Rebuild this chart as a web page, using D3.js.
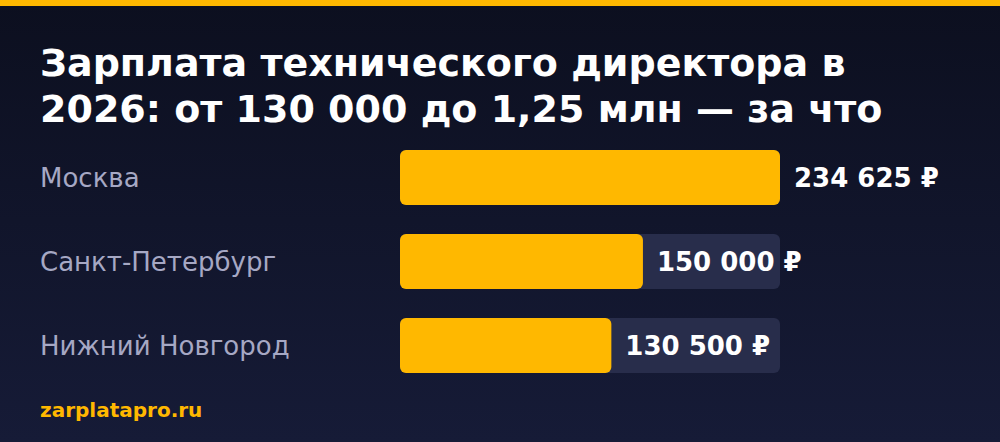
<!DOCTYPE html>
<html>
<head>
<meta charset="utf-8">
<script src="https://cdn.jsdelivr.net/npm/d3@7"></script>
<style>
  html, body { margin: 0; padding: 0; background: #0d1020; }
  svg { display: block; }
</style>
</head>
<body>
<div id="chart"></div>
<script>

var width = 1000,
    height = 442;

// data
var cities = ["Москва", "Санкт-Петербург", "Нижний Новгород"];
var salaries = [234625, 150000, 130500];
var titleLines = ["Зарплата технического директора в", "2026: от 130 000 до 1,25 млн — за что"];
var source = "zarplatapro.ru";

var font = "'DejaVu Sans', sans-serif";

var svg = d3.select("#chart")
    .append("svg")
    .attr("width", width)
    .attr("height", height);

var defs = svg.append("defs");
var grad = defs.append("linearGradient")
    .attr("id", "bg")
    .attr("x1", 0).attr("y1", 0)
    .attr("x2", 0).attr("y2", 1);
grad.append("stop").attr("offset", "0%").attr("stop-color", "#0c0f1f");
grad.append("stop").attr("offset", "100%").attr("stop-color", "#161b37");

svg.append("rect")
    .attr("width", width)
    .attr("height", height)
    .attr("fill", "url(#bg)");

// top accent
svg.append("rect")
    .attr("width", width)
    .attr("height", 6)
    .attr("fill", "#ffb800");

// title
svg.selectAll(".title")
    .data(titleLines)
    .enter()
    .append("text")
    .attr("class", "title")
    .text(function (d) { return d; })
    .attr("x", 40)
    .attr("y", function (d, i) { return 76 + i * 46; })
    .style("font-family", font)
    .style("font-weight", "bold")
    .style("font-size", "38px")
    .style("fill", "#ffffff");

// bars
var x = d3.scaleLinear()
    .domain([0, d3.max(salaries)])
    .range([400, 780]);

var y = d3.scaleBand()
    .domain(cities)
    .range([150, 373])
    .paddingInner(0.345);

var rows = cities.map(function (c, i) { return { city: c, value: salaries[i] }; });

svg.append("g")
    .selectAll(".track")
    .data(rows)
    .enter()
    .append("rect")
    .attr("class", "track")
    .attr("x", x(0))
    .attr("y", function (d) { return y(d.city); })
    .attr("width", x.range()[1] - x(0))
    .attr("height", y.bandwidth())
    .attr("rx", 6)
    .attr("fill", "#282d4b");

svg.append("g")
    .selectAll(".bar")
    .data(rows)
    .enter()
    .append("rect")
    .attr("class", "bar")
    .attr("x", x(0))
    .attr("y", function (d) { return y(d.city); })
    .attr("width", function (d) { return x(d.value) - x(0); })
    .attr("height", y.bandwidth())
    .attr("rx", 6)
    .attr("fill", "#ffb800");

svg.selectAll(".city")
    .data(rows)
    .enter()
    .append("text")
    .attr("class", "city")
    .text(function (d) { return d.city; })
    .attr("x", 40)
    .attr("y", function (d) { return y(d.city) + y.bandwidth() / 2; })
    .attr("dy", "0.35em")
    .style("font-family", font)
    .style("font-size", "26px")
    .style("fill", "#a6a8c4");

var fmt = function (v) {
    return d3.format(",")(v).replace(/,/g, " ") + " ₽";
};

svg.selectAll(".value")
    .data(rows)
    .enter()
    .append("text")
    .attr("class", "value")
    .text(function (d) { return fmt(d.value); })
    .attr("x", function (d) { return x(d.value) + 14; })
    .attr("y", function (d) { return y(d.city) + y.bandwidth() / 2; })
    .attr("dy", "0.35em")
    .style("font-family", font)
    .style("font-weight", "bold")
    .style("font-size", "26px")
    .style("fill", "#ffffff");

// source
svg.append("text")
    .text(source)
    .attr("x", 40)
    .attr("y", 417)
    .style("font-family", font)
    .style("font-weight", "bold")
    .style("font-size", "20px")
    .style("fill", "#ffb800");

</script>
</body>
</html>
